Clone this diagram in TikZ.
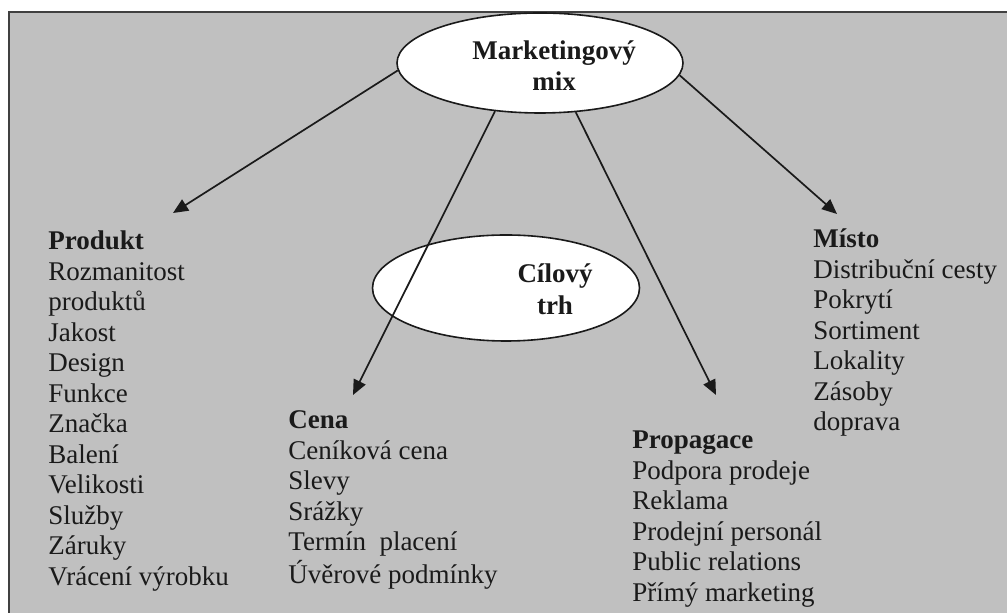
\documentclass[tikz,border=0pt]{standalone}
\usepackage{fontspec}
\setmainfont{Liberation Serif}
\usetikzlibrary{shapes.geometric,arrows.meta}
\definecolor{bgc}{HTML}{C0C0C0}
\definecolor{framec}{HTML}{404040}
\definecolor{inkc}{HTML}{1A1A1A}
\begin{document}
\begin{tikzpicture}[x=0.5pt,y=-0.5pt,
  oval/.style={ellipse,draw=inkc,line width=0.8pt,fill=white,inner sep=0pt},
  lbl/.style={inner sep=0pt,text=inkc,font=\fontsize{13.5}{15.25}\selectfont},
  conn/.style={draw=inkc,line width=0.85pt,-{Triangle[length=7.5pt,width=6.5pt]}},
]
\useasboundingbox (0,0) rectangle (1007,613);
\clip (0,0) rectangle (1007,613);
\draw[fill=bgc,draw=framec,line width=1pt] (9,12) rectangle (1030,640);

% ellipses
\node[oval,minimum width=133.5pt,minimum height=53pt] (ct) at (506,288) {};
\node[oval,minimum width=143pt,minimum height=50pt] (mm) at (540,63) {};

% arrow end points
\coordinate (tP) at (173,213);
\coordinate (tC) at (353,395);
\coordinate (tR) at (716,395);
\coordinate (tM) at (837,214);

\draw[conn] (mm.183) -- (tP);
\draw[conn] (mm.227) -- (tC);
\draw[conn] (mm.306) -- (tR);
\draw[conn] (mm.355) -- (tM);

% ellipse texts
\node[lbl,anchor=base,font=\fontsize{13.5}{15.5}\selectfont\bfseries] (mmt) at (554,60)
  {\begin{tabular}[t]{@{}c@{}}Marketingový\\mix\end{tabular}};
\node[lbl,anchor=base,font=\fontsize{13.5}{16}\selectfont\bfseries] (ctt) at (555,283)
  {\begin{tabular}[t]{@{}c@{}}Cílový\\trh\end{tabular}};

% lists
\node[lbl,anchor=base west] (produkt) at (48,250)
  {\begin{tabular}[t]{@{}l@{}}\textbf{Produkt}\\Rozmanitost\\produktů\\Jakost\\Design\\Funkce\\Značka\\Balení\\Velikosti\\Služby\\Záruky\\Vrácení výrobku\end{tabular}};
\node[lbl,anchor=base west] (cena) at (288,429)
  {\begin{tabular}[t]{@{}l@{}}\textbf{Cena}\\Ceníková cena\\Slevy\\Srážky\\Termín\ \ placení\\Úvěrové podmínky\end{tabular}};
\node[lbl,anchor=base west] (propagace) at (632,449)
  {\begin{tabular}[t]{@{}l@{}}\textbf{Propagace}\\Podpora prodeje\\Reklama\\Prodejní personál\\Public relations\\Přímý marketing\end{tabular}};
\node[lbl,anchor=base west] (misto) at (813,248)
  {\begin{tabular}[t]{@{}l@{}}\textbf{Místo}\\Distribuční cesty\\Pokrytí\\Sortiment\\Lokality\\Zásoby\\doprava\end{tabular}};
\end{tikzpicture}
\end{document}
